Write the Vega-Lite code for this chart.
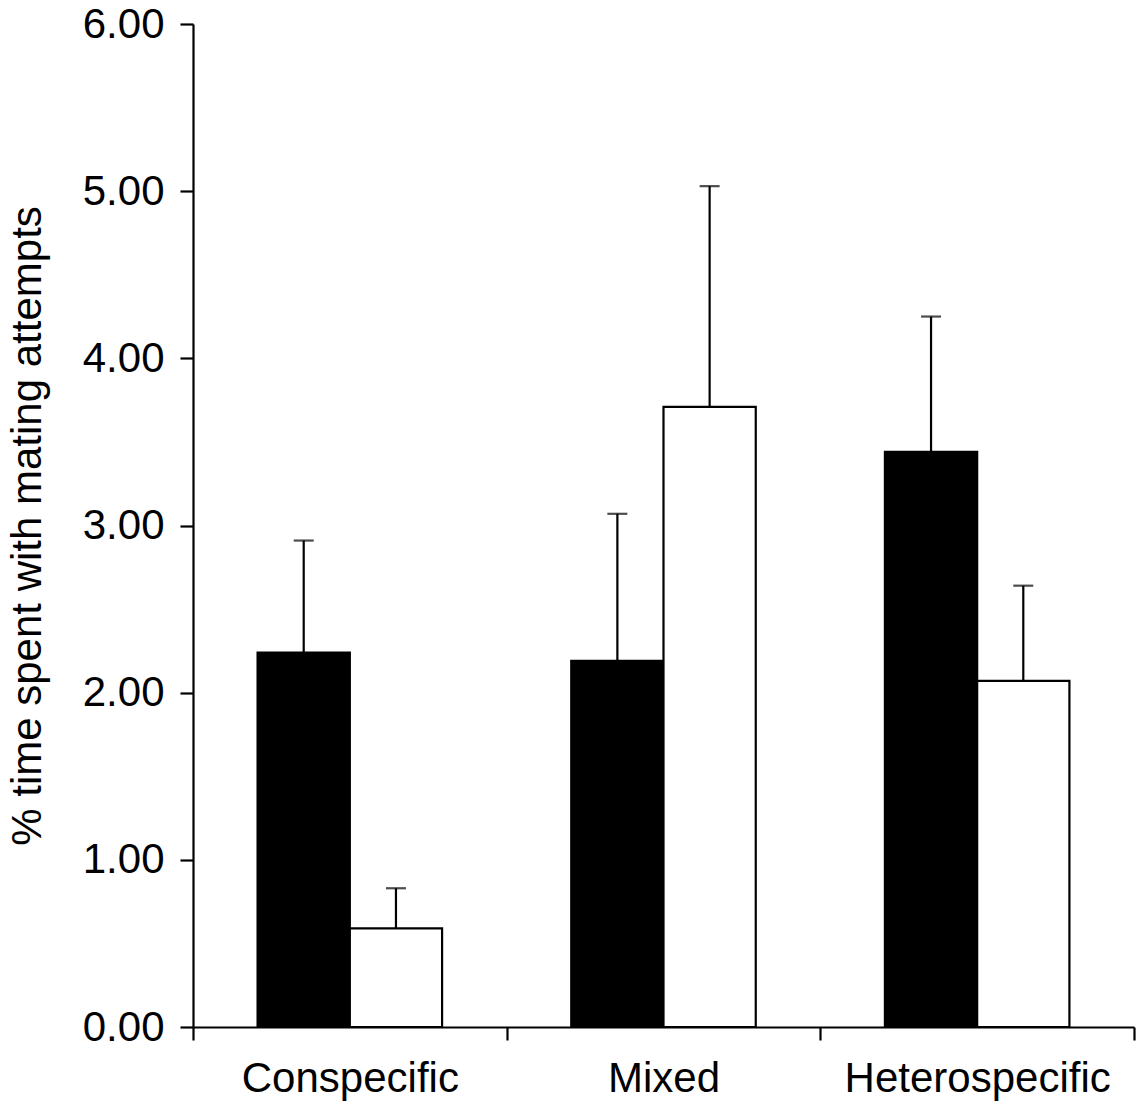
{
  "$schema": "https://vega.github.io/schema/vega-lite/v6.json",
  "width": 941,
  "height": 1003,
  "autosize": {"type": "none"},
  "padding": {"left": 193, "top": 24, "right": 2, "bottom": 78},
  "background": "white",
  "config": {
    "view": {"stroke": null},
    "font": "Liberation Sans",
    "axis": {"grid": false, "domainColor": "black", "tickColor": "black", "domainWidth": 2.2, "tickWidth": 2.2, "tickSize": 13, "labelColor": "black", "titleColor": "black", "labelFont": "Liberation Sans", "titleFont": "Liberation Sans", "titleFontWeight": "normal", "labelLimit": 0}
  },
  "data": {"values": [
    {"group": "Conspecific", "series": "A", "value": 2.24, "upper": 2.91},
    {"group": "Conspecific", "series": "B", "value": 0.59, "upper": 0.83},
    {"group": "Mixed", "series": "A", "value": 2.19, "upper": 3.07},
    {"group": "Mixed", "series": "B", "value": 3.71, "upper": 5.03},
    {"group": "Heterospecific", "series": "A", "value": 3.44, "upper": 4.25},
    {"group": "Heterospecific", "series": "B", "value": 2.07, "upper": 2.64}
  ]},
  "encoding": {
    "x": {"field": "group", "type": "nominal", "sort": ["Conspecific", "Mixed", "Heterospecific"],
      "scale": {"paddingInner": 0, "paddingOuter": 0},
      "axis": {"title": null, "labelAngle": 0, "labelFontSize": 42, "labelPadding": 18, "labelLimit": 0, "tickBand": "extent"}},
    "xOffset": {"field": "series", "type": "nominal", "scale": {"paddingInner": 0, "paddingOuter": 0.7}}
  },
  "layer": [
    {
      "mark": {"type": "rule", "color": "black", "strokeWidth": 2.2},
      "encoding": {
        "y": {"field": "value", "type": "quantitative"},
        "y2": {"field": "upper"}
      }
    },
    {
      "mark": {"type": "tick", "color": "black", "size": 20, "thickness": 2.2},
      "encoding": {
        "y": {"field": "upper", "type": "quantitative"}
      }
    },
    {
      "mark": {"type": "bar", "stroke": "black", "strokeWidth": 2.2},
      "encoding": {
        "y": {"field": "value", "type": "quantitative",
          "scale": {"domain": [0, 6], "nice": false},
          "axis": {"title": "% time spent with mating attempts", "titleFontSize": 42, "titlePadding": 33, "labelFontSize": 42, "labelPadding": 16, "format": ".2f", "values": [0, 1, 2, 3, 4, 5, 6]}},
        "fill": {"field": "series", "type": "nominal", "scale": {"range": ["black", "white"]}, "legend": null}
      }
    }
  ]
}
